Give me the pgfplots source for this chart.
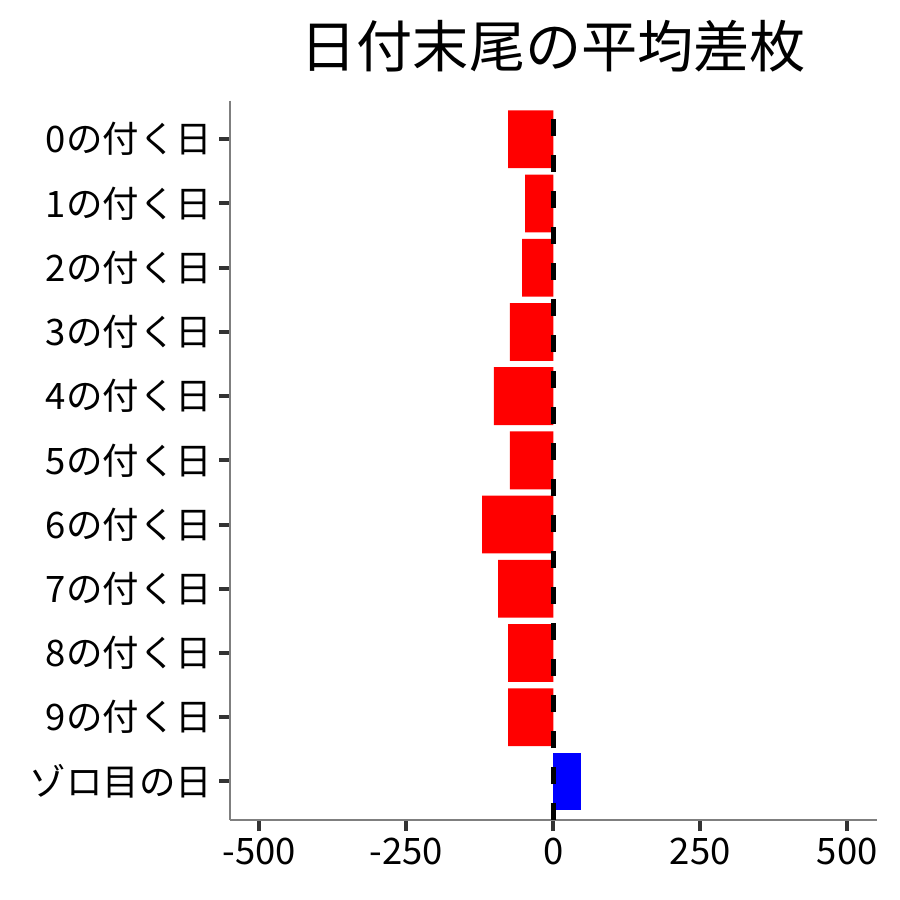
\documentclass[border=0pt]{standalone}
\usepackage{pgfplots}
\pgfplotsset{compat=1.18}
\usepackage{fontspec}
\setmainfont{Noto Sans CJK JP}
\definecolor{axisgray}{HTML}{7F7F7F}
\definecolor{tickgray}{HTML}{333333}
\begin{document}
\begin{tikzpicture}
\path[use as bounding box] (0,0) rectangle (450bp,450bp);
\begin{axis}[
  at={(115bp,40bp)}, anchor=south west,
  scale only axis, width=323.3bp, height=359.65bp,
  xmin=-550, xmax=550, ymin=-0.6, ymax=10.6, y dir=reverse,
  axis x line*=bottom, axis y line*=left,
  axis line style={axisgray, line width=1bp, -},
  xtick={-500,-250,0,250,500},
  xticklabels={-500,-250,0,250,500},
  ytick={0,...,10},
  yticklabels={0の付く日,1の付く日,2の付く日,3の付く日,4の付く日,5の付く日,6の付く日,7の付く日,8の付く日,9の付く日,ゾロ目の日},
  tick align=outside, major tick length=5.5bp,
  tick style={tickgray, line width=2bp},
  ticklabel style={font=\fontsize{18.3}{22}\selectfont, black},
  bar width=0.9, bar shift=0pt,
]
% 日付末尾ごとの平均差枚
\addplot[xbar, fill=red, draw=none] coordinates {
  (-77,0) (-48,1) (-53,2) (-74,3) (-101,4) (-74,5)
  (-121,6) (-94,7) (-77,8) (-77,9)};
\addplot[xbar, fill=blue, draw=none] coordinates {(47,10)};
% 0 の基準線
\addplot[black, line width=2.5bp, dash pattern=on 8.5bp off 9.5bp] coordinates {(0,10.6) (0,-0.6)};
\end{axis}
\node[font=\fontsize{28.2}{34}\selectfont] at (276.65bp,427bp) {日付末尾の平均差枚};
\end{tikzpicture}
\end{document}
